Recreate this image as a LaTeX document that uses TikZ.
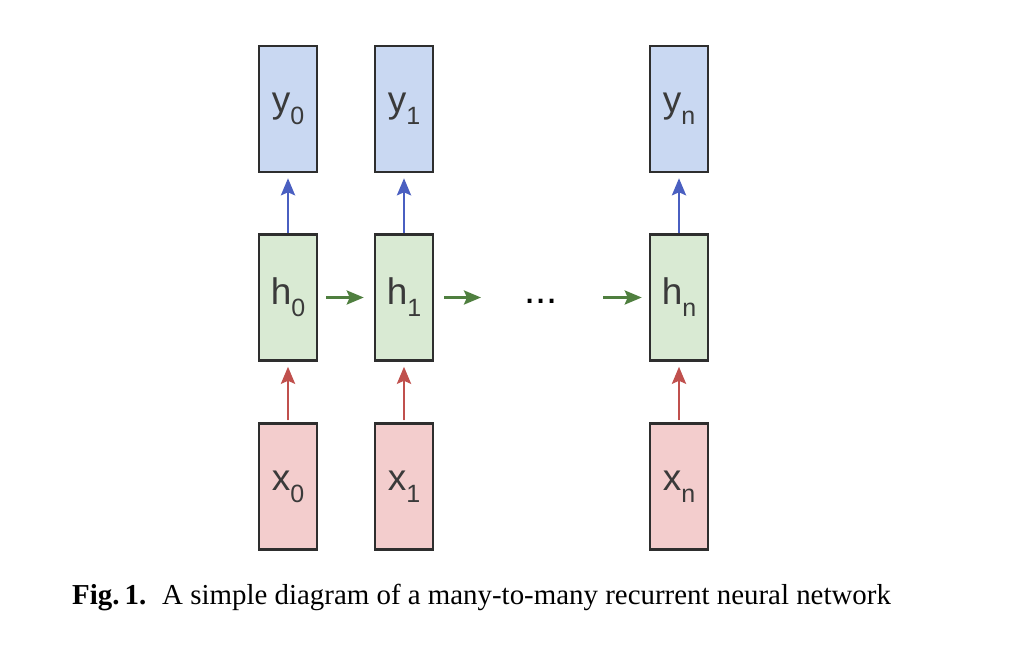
\documentclass[tikz,border=0pt]{standalone}
\usepackage{fontspec}
\setmainfont{Liberation Serif}
\newfontfamily\lblfont{Liberation Sans}
\usetikzlibrary{arrows.meta}
\definecolor{yfill}{HTML}{C9D8F2}
\definecolor{hfill}{HTML}{D9EAD3}
\definecolor{xfill}{HTML}{F3CDCD}
\definecolor{bordc}{HTML}{2E2E2E}
\definecolor{txtc}{HTML}{3A3A3A}
\definecolor{bluea}{HTML}{4A5FC1}
\definecolor{greena}{HTML}{4F7F3F}
\definecolor{reda}{HTML}{C0504D}
\newcommand{\cellname}[2]{{\lblfont\fontsize{37}{37}\selectfont #1\raisebox{-12pt}{\fontsize{25}{25}\selectfont #2}}}
\tikzset{
  cell/.style={draw=bordc, line width=2.5pt, minimum width=58pt, minimum height=126pt, inner sep=0pt, text=txtc},
  ycell/.style={cell, fill=yfill},
  hcell/.style={cell, fill=hfill},
  xcell/.style={cell, fill=xfill},
  arr/.style={line width=2.8pt, -{Stealth[length=17pt,width=14pt,inset=3pt]}},
}
\begin{document}
\begin{tikzpicture}[x={(1pt,0)}, y={(0,-1pt)}]
\useasboundingbox[fill=white] (0,0) rectangle (1010,652);
% y row
\node[ycell] (y0) at (288,109) {\cellname{y}{0}};
\node[ycell] (y1) at (404,109) {\cellname{y}{1}};
\node[ycell] (yn) at (679,109) {\cellname{y}{n}};
% h row
\node[hcell] (h0) at (288,297.5) {\cellname{h}{0}};
\node[hcell] (h1) at (404,297.5) {\cellname{h}{1}};
\node[hcell] (hn) at (679,297.5) {\cellname{h}{n}};
% x row
\node[xcell] (x0) at (288,486.5) {\cellname{x}{0}};
\node[xcell] (x1) at (404,486.5) {\cellname{x}{1}};
\node[xcell] (xn) at (679,486.5) {\cellname{x}{n}};
% dots
\node[text=black, font={\lblfont\fontsize{40}{40}\selectfont}, inner sep=0pt, anchor=base] (dots) at (541,304) {...};
\coordinate (a1) at (481,297.5);
\coordinate (a2) at (603,297.5);
% arrows
\foreach \cc in {0,1,n}{
  \draw[arr, draw=bluea, fill=bluea, shorten >=5pt] (h\cc.north) -- (y\cc.south);
  \draw[arr, draw=reda, fill=reda, shorten >=5pt, shorten <=2pt] (x\cc.north) -- (h\cc.south);
}
\draw[arr, draw=greena, fill=greena, shorten <=8pt, shorten >=10pt] (h0.east) -- (h1.west);
\draw[arr, draw=greena, fill=greena, shorten <=10pt] (h1.east) -- (a1);
\draw[arr, draw=greena, fill=greena, shorten >=7pt] (a2) -- (hn.west);
% caption
\node[anchor=base west, inner sep=0pt, font=\fontsize{28.9}{28.9}\selectfont] (cap) at (72,604) {\textbf{Fig.\hspace{5pt}1.}\hspace{16pt}A simple diagram of a many-to-many recurrent neural network};
\end{tikzpicture}
\end{document}
